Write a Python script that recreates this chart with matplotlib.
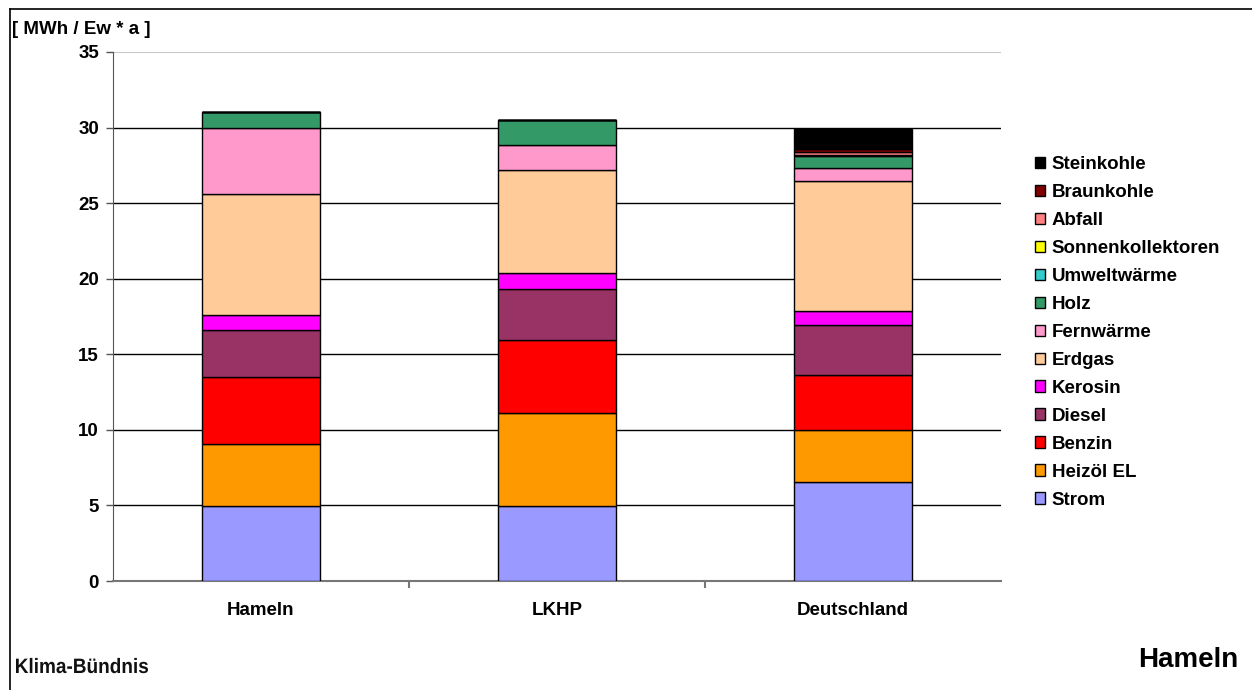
import matplotlib
matplotlib.use("Agg")
import matplotlib.pyplot as plt
from matplotlib.lines import Line2D
from matplotlib.patches import Patch, PathPatch
from matplotlib.textpath import TextPath
from matplotlib.font_manager import FontProperties
from matplotlib.transforms import Affine2D
import numpy as np

plt.rcParams['font.family'] = ['Liberation Sans', 'DejaVu Sans']

# Endenergieverbrauch je Einwohner [MWh / Ew * a]
regions = ["Hameln", "LKHP", "Deutschland"]
carriers = ["Strom", "Heizöl EL", "Benzin", "Diesel", "Kerosin", "Erdgas",
            "Fernwärme", "Holz", "Umweltwärme", "Sonnenkollektoren",
            "Abfall", "Braunkohle", "Steinkohle"]
strom = [4.95, 4.95, 6.55]
heizoel = [4.10, 6.15, 3.45]
benzin = [4.45, 4.85, 3.63]
diesel = [3.10, 3.37, 3.33]
kerosin = [1.00, 1.05, 0.93]
erdgas = [8.00, 6.85, 8.58]
fernwaerme = [4.37, 1.60, 0.84]
holz = [1.03, 1.70, 0.84]
umweltwaerme = [0.0, 0.0, 0.02]
sonnenkollektoren = [0.0, 0.0, 0.02]
abfall = [0.0, 0.0, 0.22]
braunkohle = [0.0, 0.0, 0.20]
steinkohle = [0.0, 0.0, 1.30]
colors = ["#9999FF", "#FF9900", "#FF0000", "#993366", "#FF00FF", "#FFCC99",
          "#FF99CC", "#339966", "#33CCCC", "#FFFF00", "#FF8080", "#800000",
          "#000000"]
yticks = [0, 5, 10, 15, 20, 25, 30, 35]

series = [strom, heizoel, benzin, diesel, kerosin, erdgas, fernwaerme, holz,
          umweltwaerme, sonnenkollektoren, abfall, braunkohle, steinkohle]

W, H = 1252, 690
fig = plt.figure(figsize=(W / 100, H / 100), dpi=100)
ax = fig.add_axes([113 / W, 1 - 581 / H, 888 / W, 529 / H])

x = np.arange(len(regions))
bottom = np.zeros(len(regions))
for vals, col, name in zip(series, colors, carriers):
    vals = np.array(vals)
    ax.bar(x, vals, width=0.4, bottom=bottom, color=col, edgecolor="black",
           linewidth=1.0, label=name, zorder=3)
    bottom += vals

ax.set_xlim(-0.5, 2.5)
ax.set_ylim(0, 35)
ax.set_yticks(yticks)
ax.set_yticklabels([str(t) for t in yticks], fontsize=13.5, fontweight="bold")
ax.set_xticks(x)
ax.set_xticklabels(regions, fontsize=13.5, fontweight="bold")
ax.tick_params(axis="x", length=0, pad=15)
ax.tick_params(axis="y", length=5, width=1, color="#555555", pad=5)

# separators between the categories on the x axis
for xs in [0.5, 1.5]:
    ax.plot([xs, xs], [0, -0.4], color="#777777", lw=1.5, clip_on=False)

for t in yticks[1:-1]:
    ax.axhline(t, color="black", lw=1.0, zorder=1)
ax.axhline(35, color="#c8c8c8", lw=1.5, zorder=1)

for s in ["top", "right"]:
    ax.spines[s].set_visible(False)
ax.spines["left"].set_color("#555555")
ax.spines["bottom"].set_color("#777777")
ax.spines["bottom"].set_linewidth(1.5)

handles = [Patch(facecolor=c, edgecolor="black", linewidth=1.0, label=n)
           for c, n in zip(colors[::-1], carriers[::-1])]
fig.legend(handles=handles, loc="upper left",
           bbox_to_anchor=(1035 / W, 1 - 156 / H), frameon=False,
           prop={"weight": "bold", "size": 13.5}, handlelength=0.55,
           handleheight=0.55, handletextpad=0.35, labelspacing=0.585,
           borderpad=0, borderaxespad=0)

fig.text(12 / W, 1 - 29 / H, "[ MWh / Ew * a ]", fontsize=13.5,
         fontweight="bold", va="center", ha="left")
fig.text(1238 / W, 1 - 660 / H, "Hameln", fontsize=20,
         fontweight="bold", va="center", ha="right")

# narrow logo lettering, drawn as a horizontally squeezed text path
logo_fp = FontProperties(family="Liberation Sans", weight="bold")
logo = TextPath((0, 0), "Klima-Bündnis", size=20, prop=logo_fp)
ext = logo.get_extents()
sx = 132 / ext.width
sy = 15 / 14.4
tr = Affine2D().translate(-ext.x0, 0).scale(sx, sy).translate(16, H - 673)
fig.add_artist(PathPatch(tr.transform_path(logo), facecolor="#111111",
                         edgecolor="none", transform=None))

# outer frame
fig.add_artist(Line2D([10 / W, 10 / W], [0, 1 - 9 / H],
                      transform=fig.transFigure, color="black", lw=1.2))
fig.add_artist(Line2D([10 / W, 1], [1 - 9 / H, 1 - 9 / H],
                      transform=fig.transFigure, color="black", lw=1.2))

fig.savefig("out.png", dpi=100)
